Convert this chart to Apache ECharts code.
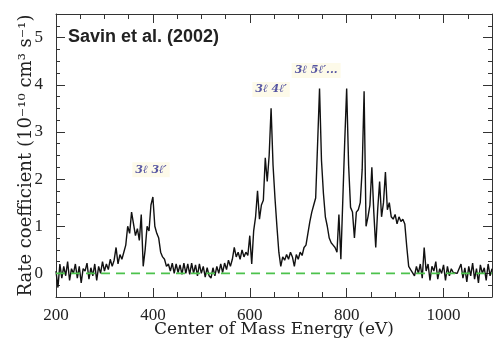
<!DOCTYPE html>
<html>
<head>
<meta charset="utf-8">
<script src="https://cdn.jsdelivr.net/npm/echarts@6/dist/echarts.min.js"></script>
<style>
  html, body { margin: 0; padding: 0; background: #fff; }
  #chart { width: 493px; height: 338px; }
</style>
</head>
<body>
<div id="chart"></div>
<script>
// readings start at 200 eV, one every 4 eV
var energyStart = 200
var energyStep = 4
// rate coefficient, 10^-10 cm^3 s^-1 (ten readings per row)
var rate = [
  0.05, -0.3, 0.2, -0.1, 0.15, -0.05, 0.25, -0.15, 0.1, 0.0,      // 200
  0.2, -0.1, 0.15, -0.2, 0.1, 0.05, 0.22, -0.12, 0.12, -0.05,     // 240
  0.2, -0.15, 0.15, 0.0, 0.25, 0.05, 0.2, 0.08, 0.3, 0.15,        // 280
  0.28, 0.55, 0.2, 0.4, 0.3, 0.45, 0.6, 1.0, 0.85, 1.3,           // 320
  1.05, 0.8, 0.95, 0.7, 1.25, 0.15, 0.5, 1.0, 0.9, 1.45,          // 360
  1.62, 1.0, 0.85, 0.75, 0.45, 0.35, 0.3, 0.15, 0.2, 0.05,        // 400
  0.22, 0.0, 0.2, 0.02, 0.18, -0.02, 0.22, 0.0, 0.2, -0.02,       // 440
  0.22, 0.0, 0.18, -0.05, 0.2, 0.0, 0.15, -0.08, 0.12, -0.05,     // 480
  -0.1, 0.12, -0.05, 0.15, 0.0, 0.2, 0.02, 0.22, 0.08, 0.28,      // 520
  0.15, 0.3, 0.55, 0.35, 0.45, 0.3, 0.5, 0.35, 0.45, 0.38,        // 560
  0.8, 0.2, 0.9, 1.2, 1.75, 1.15, 1.45, 1.55, 2.45, 1.95,         // 600
  2.5, 3.5, 2.3, 1.6, 1.0, 0.45, 0.15, 0.35, 0.28, 0.4,           // 640
  0.3, 0.45, 0.35, 0.15, 0.4, 0.3, 0.45, 0.38, 0.55, 0.6,         // 680
  0.85, 1.1, 1.3, 1.45, 1.6, 2.75, 3.92, 2.4, 1.7, 1.2,           // 720
  1.0, 0.75, 0.65, 0.6, 0.55, 0.45, 1.25, 0.3, 1.55, 2.8,         // 760
  3.92, 2.3, 1.4, 1.3, 0.75, 1.3, 1.35, 1.5, 2.2, 3.86,           // 800
  1.0, 1.2, 1.45, 2.25, 1.3, 0.55, 1.35, 1.95, 1.2, 1.5,          // 840
  2.15, 1.35, 1.5, 1.2, 1.15, 1.25, 1.05, 1.2, 1.1, 1.15,         // 880
  1.05, 0.57, 0.15, 0.08, 0.12, -0.05, 0.15, 0.0, 0.2, -0.1,      // 920
  0.55, 0.05, 0.2, -0.15, 0.15, 0.05, 0.25, -0.12, 0.1, 0.0,      // 960
  0.18, -0.15, 0.15, -0.05, 0.1, 0.02, 0.05, 0.0, 0.04, 0.2,      // 1000
  -0.1, 0.12, -0.18, 0.15, -0.05, 0.22, -0.12, 0.1, -0.2, 0.18,   // 1040
  0.0, 0.12, -0.15, 0.2, -0.05, 0.1                               // 1080
]
var xTickLabels = [200, 400, 600, 800, 1000]
var yTickLabels = [0, 1, 2, 3, 4, 5]
var zeroLine = [[200, 0], [1100, 0]]
var peakNames = ['3ℓ 3ℓ′', '3ℓ 4ℓ′', '3ℓ 5ℓ′...']
var peakAt = [[396, 2.2], [644, 3.9], [737, 4.3]]

var chart = echarts.init(document.getElementById('chart'), null, { renderer: 'canvas' })

var lineData = rate.map(function(v, i) {
  return [energyStart + i * energyStep, v]
})
var peakData = peakAt.map(function(p, i) {
  return { value: p, name: peakNames[i] }
})

var tickFont = { fontFamily: 'Liberation Serif', fontSize: 17, color: '#222' }
var plain = function(v) { return String(v) }

// keep every axis on the frame edge (not on zero)
function frame(show) {
  return { show: show, onZero: false, lineStyle: { color: '#333', width: 1 } }
}

// one axis for the short ticks + labels, a second one only for the long ticks
function xAxis(pos, main, withLabels) {
  var ax = {
    type: 'value', min: 200, max: 1100, interval: 50, position: pos,
    axisLine: frame(main),
    axisTick: { inside: true, length: main ? 5 : 9, lineStyle: { color: '#333' } },
    axisLabel: { show: false },
    splitLine: { show: false }
  }
  if (!main) ax.axisTick.customValues = xTickLabels
  if (withLabels) {
    ax.axisLabel = Object.assign({ show: true, margin: 10, customValues: xTickLabels, formatter: plain }, tickFont)
    ax.name = 'Center of Mass Energy (eV)'
    ax.nameLocation = 'middle'
    ax.nameGap = 24
    ax.nameMoveOverlap = false
    ax.nameTextStyle = { fontFamily: 'DejaVu Serif', fontSize: 17, color: '#222' }
  }
  return ax
}
function yAxis(pos, main, withLabels) {
  var ax = {
    type: 'value', min: -0.5, max: 5.5, interval: 0.25, position: pos,
    axisLine: frame(main),
    axisTick: { inside: true, length: main ? 4 : 9, lineStyle: { color: '#333' } },
    axisLabel: { show: false },
    splitLine: { show: false }
  }
  if (!main) ax.axisTick.customValues = yTickLabels
  if (withLabels) {
    ax.axisLabel = Object.assign({ show: true, margin: 13, customValues: yTickLabels, formatter: plain }, tickFont)
    ax.name = 'Rate coefficient (10⁻¹⁰ cm³ s⁻¹)'
    ax.nameLocation = 'middle'
    ax.nameGap = 21
    ax.nameMoveOverlap = false
    ax.nameTextStyle = { fontFamily: 'DejaVu Serif', fontSize: 18, color: '#222' }
  }
  return ax
}

chart.setOption({
  animation: false,
  backgroundColor: '#fff',
  title: {
    text: 'Savin et al. (2002)',
    left: 68, top: 28, padding: 0,
    textStyle: { fontFamily: 'Liberation Sans', fontWeight: 'bold', fontSize: 18, color: '#222' }
  },
  grid: { left: 56, right: 1, top: 14, bottom: 41, containLabel: false, outerBoundsMode: 'none' },
  xAxis: [xAxis('bottom', true, true), xAxis('bottom', false), xAxis('top', true), xAxis('top', false)],
  yAxis: [yAxis('left', true, true), yAxis('left', false), yAxis('right', true), yAxis('right', false)],
  series: [
    {
      type: 'line',
      data: lineData,
      showSymbol: false,
      lineStyle: { color: '#111', width: 1.4 },
      z: 3
    },
    {
      type: 'line',
      data: zeroLine,
      showSymbol: false,
      lineStyle: { color: '#4cc24c', width: 1.8, type: [9, 6] },
      z: 4
    },
    {
      type: 'scatter',
      data: peakData,
      symbolSize: 0,
      label: {
        show: true,
        position: 'inside',
        formatter: '{b}',
        fontFamily: 'DejaVu Serif',
        fontStyle: 'italic',
        fontWeight: 'bold',
        fontSize: 11,
        color: '#2c2c90',
        backgroundColor: '#fdf9e3',
        padding: [2, 3]
      },
      z: 5
    }
  ]
})
</script>
</body>
</html>
